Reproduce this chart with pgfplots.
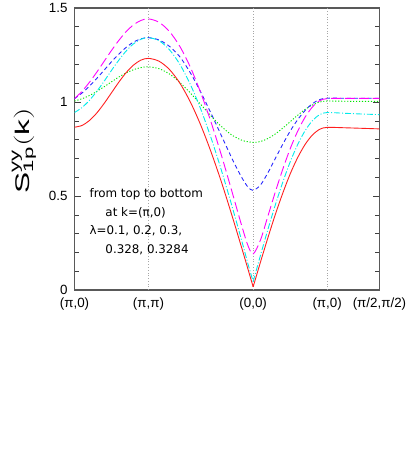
\documentclass[border=0pt]{standalone}
\usepackage{fontspec}
\setmainfont{Liberation Sans}
\newfontfamily\annfont{DejaVu Sans}
\usepackage{pgfplots}
\pgfplotsset{compat=1.18}
\definecolor{cR}{RGB}{255,30,30}
\definecolor{cC}{RGB}{0,235,235}
\definecolor{cM}{RGB}{255,0,255}
\definecolor{cB}{RGB}{40,40,255}
\definecolor{cG}{RGB}{0,230,0}
\begin{document}
\begin{tikzpicture}[x=1bp,y=1bp]
\path (0,0) rectangle (414,450);
\begin{axis}[
  at={(75bp,161bp)}, anchor=south west, scale only axis,
  width=307bp, height=284bp,
  xmin=0, xmax=4.1213, ymin=0, ymax=1.5,
  xtick={0,1,2.4142,3.4142,4.1213},
  xticklabels={(π,0),(π,π),(0,0),(π,0),(π/2,π/2)},
  x tick style={draw=none},
  ytick={0,0.5,1,1.5}, yticklabels={0,0.5,1,1.5},
  minor y tick num=4,
  major tick length=7bp, minor tick length=4.5bp,
  y tick style={black!75, line width=0.6bp},
  axis line style={black!65, line width=1.2bp},
  tick label style={font=\fontsize{13.5}{14}\selectfont},
  yticklabel style={xshift=-3.5bp},
  xticklabel style={yshift=-4bp},
]
\addplot[gray!70, line width=0.7bp, dash pattern=on 0.8bp off 2bp] coordinates {(1,0)(1,1.5)};
\addplot[gray!70, line width=0.7bp, dash pattern=on 0.8bp off 2bp] coordinates {(2.4142,0)(2.4142,1.5)};
\addplot[gray!70, line width=0.7bp, dash pattern=on 0.8bp off 2bp] coordinates {(3.4142,0)(3.4142,1.5)};
% green lambda=0.1
\addplot[cG, line width=0.9bp, dash pattern=on 1.2bp off 1.8bp, smooth] coordinates {
(0,1.005)(0.1,1.017)(0.2,1.034)(0.3,1.056)(0.4,1.081)(0.5,1.107)(0.6,1.133)(0.7,1.155)(0.8,1.172)(0.9,1.183)(1,1.187)
(1.1414,1.177)(1.2828,1.149)(1.4243,1.104)(1.5657,1.048)(1.7071,0.986)(1.8485,0.924)(1.9899,0.868)(2.1314,0.823)(2.2728,0.795)(2.4142,0.785)
(2.5142,0.790)(2.6142,0.806)(2.7142,0.830)(2.8142,0.861)(2.9142,0.895)(3.0142,0.929)(3.1142,0.960)(3.2142,0.984)(3.3142,1.000)(3.4142,1.005)
(3.6475,1.004)(3.8880,1.003)(4.1213,1.003)};
% blue lambda=0.2
\addplot[cB, line width=0.9bp, dash pattern=on 4bp off 3bp, smooth] coordinates {
(0,1.018)(0.1,1.047)(0.2,1.084)(0.3,1.125)(0.4,1.169)(0.5,1.214)(0.6,1.255)(0.7,1.291)(0.8,1.319)(0.9,1.336)(1,1.342)
(1.1414,1.330)(1.2828,1.296)(1.4243,1.240)(1.5657,1.155)(1.7071,1.052)(1.8485,0.937)(1.9899,0.817)(2.1314,0.697)(2.2021,0.641)(2.2728,0.590)(2.3435,0.548)(2.4142,0.530)
(2.5142,0.559)(2.6142,0.624)(2.7142,0.700)(2.8142,0.775)(2.9142,0.845)(3.0142,0.905)(3.1142,0.954)(3.2142,0.991)(3.3142,1.013)(3.4142,1.020)
(3.6475,1.020)(3.8880,1.020)(4.1213,1.020)};
% magenta lambda=0.3
\addplot[cM, line width=0.9bp, dash pattern=on 10bp off 4bp, smooth] coordinates {
(0,1.018)(0.1,1.056)(0.2,1.104)(0.3,1.158)(0.4,1.216)(0.5,1.274)(0.6,1.328)(0.7,1.375)(0.8,1.411)(0.9,1.434)(1,1.442)
(1.1414,1.424)(1.2828,1.375)(1.4243,1.295)(1.5657,1.185)(1.7071,1.048)(1.8485,0.889)(1.9899,0.711)(2.1314,0.519)(2.2021,0.421)(2.2728,0.325)(2.3435,0.237)(2.4142,0.192)
(2.5142,0.267)(2.6142,0.394)(2.7142,0.522)(2.8142,0.642)(2.9142,0.751)(3.0142,0.843)(3.1142,0.918)(3.2142,0.973)(3.3142,1.007)(3.4142,1.018)
(3.6475,1.019)(3.8880,1.019)(4.1213,1.019)};
% cyan lambda=0.328
\addplot[cC, line width=0.9bp, dash pattern=on 6bp off 2bp on 1bp off 2bp, smooth] coordinates {
(0,0.944)(0.1,0.970)(0.2,1.008)(0.3,1.056)(0.4,1.110)(0.5,1.168)(0.6,1.223)(0.7,1.272)(0.8,1.310)(0.9,1.334)(1,1.342)
(1.1414,1.326)(1.2828,1.278)(1.4243,1.200)(1.5657,1.093)(1.7071,0.961)(1.8485,0.805)(1.9899,0.631)(2.1314,0.442)(2.2728,0.244)(2.3435,0.140)(2.4142,0.045)};
\addplot[cC, line width=0.9bp, dash pattern=on 6bp off 2bp on 1bp off 2bp, smooth] coordinates {
(2.4142,0.045)(2.5142,0.186)(2.6142,0.323)(2.7142,0.453)(2.8142,0.573)(2.9142,0.681)(3.0142,0.772)(3.1142,0.846)(3.2142,0.900)(3.3142,0.933)(3.4142,0.944)
(3.6475,0.940)(3.8880,0.936)(4.1213,0.933)};
% red lambda=0.3284
\addplot[cR, line width=0.9bp, smooth] coordinates {
(0,0.866)(0.1,0.875)(0.2,0.901)(0.3,0.941)(0.4,0.992)(0.5,1.049)(0.6,1.106)(0.7,1.157)(0.8,1.197)(0.9,1.223)(1,1.232)
(1.1414,1.217)(1.2828,1.173)(1.4243,1.100)(1.5657,1.000)(1.7071,0.876)(1.8485,0.731)(1.9899,0.569)(2.1314,0.392)(2.2728,0.207)(2.4142,0.017)};
\addplot[cR, line width=0.9bp, smooth] coordinates {
(2.4142,0.017)(2.5142,0.150)(2.6142,0.279)(2.7142,0.402)(2.8142,0.515)(2.9142,0.617)(3.0142,0.703)(3.1142,0.773)(3.2142,0.824)(3.3142,0.855)(3.4142,0.865)
(3.6475,0.863)(3.8880,0.860)(4.1213,0.857)};
\end{axis}
\node[rotate=90, inner sep=0] at (24,301.5) {\scalebox{1.6}[1]{\fontsize{20}{20}\selectfont$\mathrm{S}^{\mathrm{yy}}_{\mathrm{1p}}(\mathrm{k})$}};
\begin{scope}[every node/.style={anchor=base west, inner sep=0, font=\annfont\fontsize{12}{12}\selectfont}]
\node at (90,254) {from top to bottom};
\node at (106,235.5) {at k=(π,0)};
\node at (90,217) {λ=0.1, 0.2, 0.3,};
\node at (106,198) {0.328, 0.3284};
\end{scope}
\end{tikzpicture}
\end{document}
